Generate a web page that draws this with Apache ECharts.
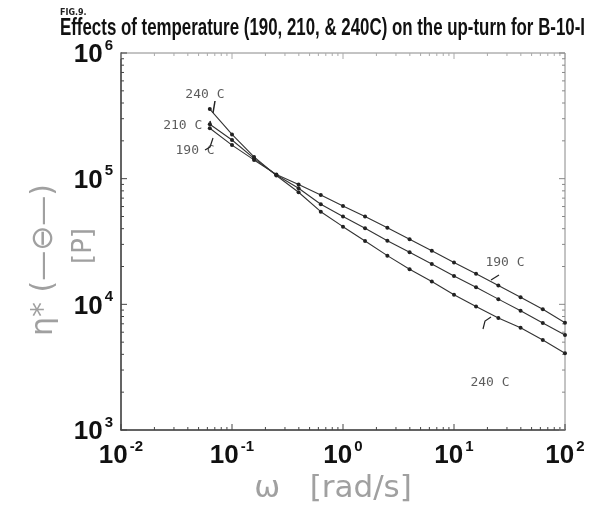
<!DOCTYPE html>
<html>
<head>
<meta charset="utf-8">
<script src="https://cdn.jsdelivr.net/npm/echarts@6/dist/echarts.min.js"></script>
<style>
html,body{margin:0;padding:0;background:#fff;}
#main{width:600px;height:506px;}
</style>
</head>
<body>
<div id="main"></div>
<script>
// frequency (rad/s) and complex viscosity (P)
var omega  = [0.0631,0.1,0.158,0.251,0.398,0.631,1,1.58,2.51,3.98,6.31,10,15.8,25.1,39.8,63.1,100];
var eta190 = [2.52e5,1.85e5,1.41e5,1.08e5,9.0e4,7.4e4,6.07e4,4.99e4,4.07e4,3.30e4,2.67e4,2.15e4,1.75e4,1.41e4,1.14e4,9.15e3,7.14e3];
var eta210 = [2.71e5,2.03e5,1.45e5,1.07e5,8.4e4,6.25e4,4.99e4,4.03e4,3.21e4,2.60e4,2.09e4,1.68e4,1.37e4,1.10e4,8.9e3,7.1e3,5.7e3];
var eta240 = [3.58e5,2.25e5,1.49e5,1.06e5,7.8e4,5.46e4,4.15e4,3.19e4,2.44e4,1.90e4,1.52e4,1.19e4,9.6e3,7.8e3,6.5e3,5.2e3,4.08e3];

var xDecades = [-2,-1,0,1,2];
var yDecades = [3,4,5,6];
var minorSteps = [2,3,4,5,6,7,8,9];

// curve labels: text, omega, eta
var annoText = ['240 C','210 C','190 C','190 C','240 C'];
var annoX    = [0.057,0.036,0.0465,28.8,21.1];
var annoY    = [4.64e5,2.62e5,1.66e5,2.13e4,2.37e3];

var titleText = 'Effects of temperature (190, 210, & 240C) on the up-turn for B-10-I';
var xMin = 0.01, xMax = 100, yMin = 1000, yMax = 1e6;

// title is set in a condensed face: squeeze a normal bold face to the same width
var ctx = document.createElement('canvas').getContext('2d');
ctx.font = 'bold 24px "Liberation Sans"';
var titleScale = 525 / ctx.measureText(titleText).width;

// tick table: [x, y, kind(0 = x axis, 1 = y axis), length]
var ticks = [];
xDecades.forEach(function (d) {
    ticks.push([Math.pow(10, d), yMin, 0, 6]);
    if (d < 2) minorSteps.forEach(function (k) { ticks.push([k * Math.pow(10, d), yMin, 0, 3]); });
});
yDecades.forEach(function (d) {
    ticks.push([xMin, Math.pow(10, d), 1, 6]);
    if (d < 6) minorSteps.forEach(function (k) { ticks.push([xMin, k * Math.pow(10, d), 1, 3]); });
});

function renderTick(params, api) {
    var kind = api.value(2), len = api.value(3);
    var st = {stroke: '#444', lineWidth: 1};
    if (kind === 0) {
        var p = api.coord([api.value(0), yMin]);
        var q = api.coord([api.value(0), yMax]);
        return {type: 'group', children: [
            {type: 'line', shape: {x1: p[0], y1: p[1], x2: p[0], y2: p[1] - len}, style: st},
            {type: 'line', shape: {x1: q[0], y1: q[1], x2: q[0], y2: q[1] + len}, style: {stroke: '#aaa', lineWidth: 1}}
        ]};
    }
    var a = api.coord([xMin, api.value(1)]);
    var b = api.coord([xMax, api.value(1)]);
    return {type: 'group', children: [
        {type: 'line', shape: {x1: a[0], y1: a[1], x2: a[0] + len, y2: a[1]}, style: st},
        {type: 'line', shape: {x1: b[0], y1: b[1], x2: b[0] - len, y2: b[1]}, style: {stroke: '#888', lineWidth: 1}}
    ]};
}

function powLabel(v) {
    var e = Math.round(Math.log10(v));
    return '{b|10}{s|' + e + '}';
}
var labelRich = {
    b: {fontSize: 26, fontWeight: 'bold', fontFamily: 'Liberation Sans', color: '#111', verticalAlign: 'bottom'},
    s: {fontSize: 15, fontWeight: 'bold', fontFamily: 'Liberation Sans', color: '#111', verticalAlign: 'top', padding: [0, 0, 15, 2]}
};

function pair(xs, ys) {
    return xs.map(function (x, i) { return [x, ys[i]]; });
}

function curve(name, ys) {
    return {
        name: name, type: 'line', data: pair(omega, ys),
        symbol: 'circle', symbolSize: 4,
        itemStyle: {color: '#222'},
        lineStyle: {color: '#333', width: 1.1},
        silent: true, z: 3
    };
}

var myChart = echarts.init(document.getElementById('main'));
var option = {
    animation: false,
    backgroundColor: '#fff',
    grid: {
        left: 121, right: 35, top: 53, bottom: 76,
        show: true, borderColor: '#888', borderWidth: 1, backgroundColor: 'transparent'
    },
    xAxis: {
        type: 'log', logBase: 10, min: xMin, max: xMax,
        axisLine: {show: true, lineStyle: {color: '#444', width: 1.5}},
        axisTick: {show: false},
        splitLine: {show: false},
        axisLabel: {formatter: powLabel, rich: labelRich, margin: 9, showMinLabel: true, showMaxLabel: true}
    },
    yAxis: {
        type: 'log', logBase: 10, min: yMin, max: yMax,
        axisLine: {show: true, lineStyle: {color: '#444', width: 1.5}},
        axisTick: {show: false},
        splitLine: {show: false},
        axisLabel: {formatter: powLabel, rich: labelRich, margin: 8, showMinLabel: true, showMaxLabel: true}
    },
    graphic: [
        {type: 'text', left: 60, top: 9, style: {text: 'FIG.9.', fontSize: 8, fontWeight: 'bold', fontFamily: 'DejaVu Sans', fill: '#222'}},
        {type: 'text', x: 60, y: 16, scaleX: titleScale, style: {text: titleText, fontSize: 24, fontWeight: 'bold', fontFamily: 'Liberation Sans', fill: '#111'}},
        {type: 'text', x: 44, y: 260, rotation: Math.PI / 2, style: {text: 'η* (—⊖—)', fontSize: 30, fontFamily: 'DejaVu Sans', fill: '#a0a0a0', align: 'center', verticalAlign: 'middle'}},
        {type: 'text', x: 84, y: 246, rotation: Math.PI / 2, style: {text: '[P]', fontSize: 26, fontFamily: 'DejaVu Sans', fill: '#a0a0a0', align: 'center', verticalAlign: 'middle'}},
        {type: 'text', x: 333, y: 489, style: {text: 'ω   [rad/s]', fontSize: 31, fontFamily: 'DejaVu Sans', fill: '#a0a0a0', align: 'center', verticalAlign: 'middle'}},
        // little arrows pointing at the curves
        {type: 'polyline', shape: {points: [[215, 101], [214, 107], [213, 113]]}, style: {stroke: '#222', lineWidth: 1.5, fill: null}},
        {type: 'polyline', shape: {points: [[210, 121], [211, 126]]}, style: {stroke: '#222', lineWidth: 1.5, fill: null}},
        {type: 'polyline', shape: {points: [[205, 150], [210, 147], [213, 138]]}, style: {stroke: '#222', lineWidth: 1.2, fill: null}},
        {type: 'polyline', shape: {points: [[499, 275], [491, 280]]}, style: {stroke: '#222', lineWidth: 1.2, fill: null}},
        {type: 'polyline', shape: {points: [[483, 329], [485, 321], [491, 317]]}, style: {stroke: '#222', lineWidth: 1.2, fill: null}}
    ],
    series: [
        curve('190 C', eta190),
        curve('210 C', eta210),
        curve('240 C', eta240),
        {type: 'custom', data: ticks, renderItem: renderTick, silent: true, z: 2, clip: false},
        {
            type: 'scatter', data: pair(annoX, annoY), symbolSize: 0, silent: true,
            label: {
                show: true, position: 'inside',
                formatter: function (p) { return annoText[p.dataIndex]; },
                fontSize: 13, fontFamily: 'DejaVu Sans Mono', color: '#333'
            }
        }
    ]
};
myChart.setOption(option);
</script>
</body>
</html>
